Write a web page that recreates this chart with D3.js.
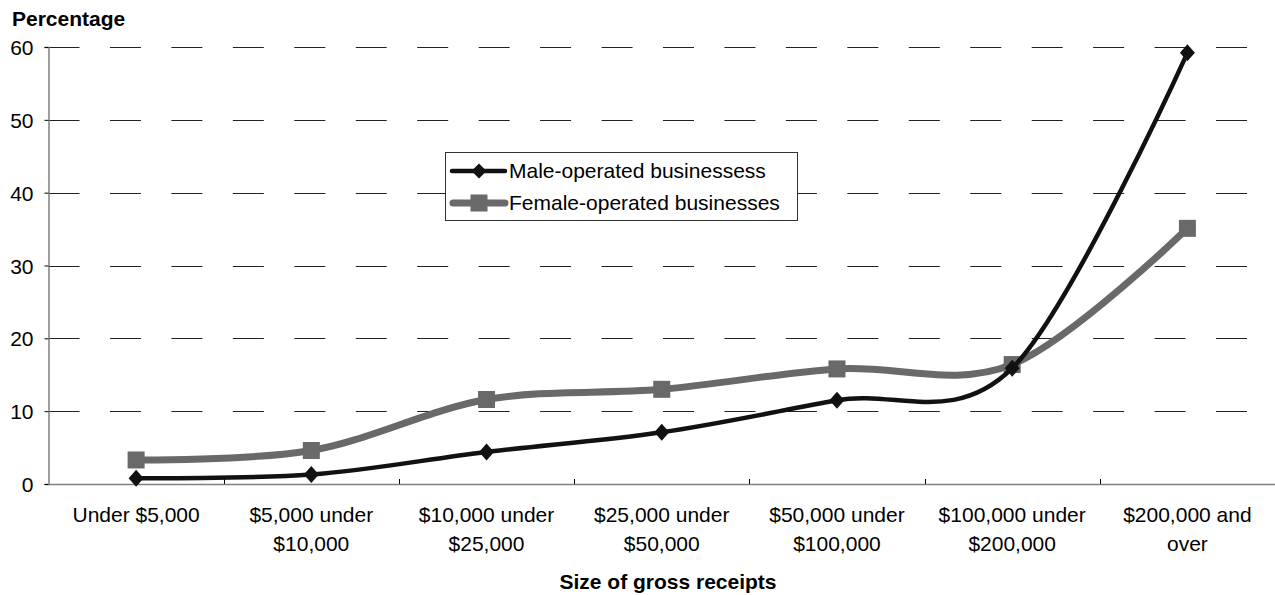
<!DOCTYPE html>
<html><head><meta charset="utf-8">
<script src="https://cdn.jsdelivr.net/npm/d3@7"></script>
<style>body{margin:0;background:#fff}text{font-family:"Liberation Sans",Arial,sans-serif}</style>
</head><body><svg id="c" width="1275" height="595"></svg>
<script>
const categories = [["Under $5,000"],["$5,000 under","$10,000"],["$10,000 under","$25,000"],["$25,000 under","$50,000"],["$50,000 under","$100,000"],["$100,000 under","$200,000"],["$200,000 and","over"]];
const male = [0.8, 1.3, 4.4, 7.1, 11.5, 15.9, 59.2];
const female = [3.3, 4.6, 11.6, 13.0, 15.8, 16.4, 35.1];
const yTicks = [0,10,20,30,40,50,60];
const seriesNames = ["Male-operated businessess","Female-operated businesses"];

const FONT = "Liberation Sans, Arial, sans-serif";
const FS = 21;
const svg = d3.select("#c");
const L = 48.5, R = 1275, T = 47, B = 484;
const x = d3.scaleBand().domain(d3.range(categories.length)).range([L, R]);
const y = d3.scaleLinear().domain([0,60]).range([B, T]);

// gridlines
svg.append("g").selectAll("line").data(yTicks.filter(d=>d>0)).join("line")
  .attr("x1", L).attr("x2", 1250).attr("y1", d=>Math.round(y(d))+0.5).attr("y2", d=>Math.round(y(d))+0.5)
  .attr("stroke","#222").attr("stroke-width",1).attr("stroke-dasharray","31,30.45");

// y axis
const ya = svg.append("g").attr("transform",`translate(${L},0)`)
  .call(d3.axisLeft(y).tickValues(yTicks).tickSize(4).tickPadding(11));
ya.select(".domain").attr("stroke","#808080").attr("stroke-width",1.5);
ya.selectAll(".tick line").attr("stroke","#000");
ya.selectAll(".tick text").attr("font-size",FS).attr("fill","#000").attr("font-family",FONT).attr("dy","0.36em");

// x axis
const xa = svg.append("g").attr("transform",`translate(0,${B})`);
xa.append("line").attr("x1",L).attr("x2",R).attr("y1",0.5).attr("y2",0.5).attr("stroke","#808080").attr("stroke-width",1.5);
xa.selectAll("line.t").data(d3.range(1,categories.length)).join("line").attr("class","t")
  .attr("x1",d=>Math.round(x(d))+0.5).attr("x2",d=>Math.round(x(d))+0.5).attr("y1",0).attr("y2",-5).attr("stroke","#000");
xa.selectAll("text.c").data(categories).join("text").attr("class","c")
  .attr("x",(d,i)=>x(i)+x.bandwidth()/2).attr("y",38).attr("text-anchor","middle").attr("font-size",FS).attr("fill","#000")
  .each(function(d){ d3.select(this).selectAll("tspan").data(d).join("tspan")
    .attr("x",d3.select(this).attr("x")).attr("dy",(t,j)=>j?29:0).text(t=>t); });

// titles
svg.append("text").attr("x",12).attr("y",26).attr("font-size",FS).attr("font-weight","bold").text("Percentage");
svg.append("text").attr("x",668).attr("y",589).attr("text-anchor","middle").attr("font-size",FS).attr("font-weight","bold").text("Size of gross receipts");

const cx = i => x(i)+x.bandwidth()/2;
const line = d3.line().x((d,i)=>cx(i)).y(d=>y(d)).curve(d3.curveCatmullRom.alpha(0));

const FC = "#696969", MC = "#111";
// female
svg.append("path").attr("d",line(female)).attr("fill","none").attr("stroke",FC).attr("stroke-width",7).attr("stroke-linejoin","round");
svg.append("g").selectAll("rect").data(female).join("rect")
  .attr("x",(d,i)=>cx(i)-8.5).attr("y",d=>y(d)-8.5).attr("width",17).attr("height",17).attr("fill",FC);
// male
svg.append("path").attr("d",line(male)).attr("fill","none").attr("stroke",MC).attr("stroke-width",4.5).attr("stroke-linejoin","round");
svg.append("g").selectAll("path.m").data(male).join("path").attr("class","m")
  .attr("d",(d,i)=>`M${cx(i)},${y(d)-8.5}L${cx(i)+7.5},${y(d)}L${cx(i)},${y(d)+8.5}L${cx(i)-7.5},${y(d)}Z`).attr("fill",MC);

// legend
const lg = svg.append("g");
lg.append("rect").attr("x",445.5).attr("y",152.5).attr("width",352).attr("height",68).attr("fill","#fff").attr("stroke","#333");
lg.append("line").attr("x1",452).attr("x2",505).attr("y1",171).attr("y2",171).attr("stroke",MC).attr("stroke-width",4.5).attr("stroke-linecap","round");
lg.append("path").attr("d","M479,163.5L486.5,171L479,178.5L471.5,171Z").attr("fill",MC);
lg.append("line").attr("x1",453).attr("x2",505).attr("y1",203).attr("y2",203).attr("stroke",FC).attr("stroke-width",7).attr("stroke-linecap","round");
lg.append("rect").attr("x",470.5).attr("y",194.5).attr("width",17).attr("height",17).attr("fill",FC);
lg.selectAll("text").data(seriesNames).join("text").attr("x",509).attr("y",(d,i)=>178+i*32).attr("font-size",FS).text(d=>d);
</script></body></html>
